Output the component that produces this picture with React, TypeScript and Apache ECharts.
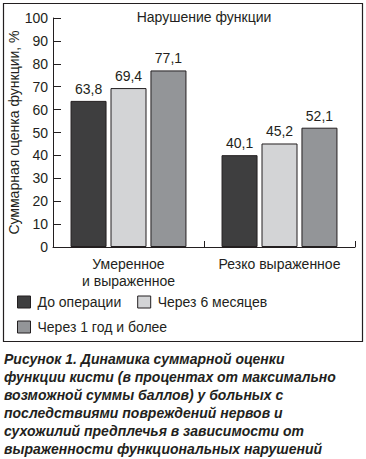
import React, { useEffect, useRef } from "react";
import * as echarts from "echarts";

const categories = ["Умеренное\nи выраженное", "Резко выраженное"];
const seriesNames = ["До операции", "Через 6 месяцев", "Через 1 год и более"];
const beforeOp = [63.8, 40.1];
const after6m = [69.4, 45.2];
const after1y = [77.1, 52.1];
const yTicks = { min: 0, max: 100, interval: 10 };
const chartTitle = "Нарушение функции";
const yAxisName = "Суммарная оценка функции, %";
const caption =
  "Рисунок 1. Динамика суммарной оценки\nфункции кисти (в процентах от максимально\nвозможной суммы баллов) у больных с\nпоследствиями повреждений нервов и\nсухожилий предплечья в зависимости от\nвыраженности функциональных нарушений";

const INK = "#231f20";
const FONT = "'Liberation Sans', Arial, sans-serif";
const colors = ["#3e3e3f", "#d3d4d6", "#939598"];

export default function App() {
  const ref = useRef<HTMLDivElement>(null);
  useEffect(() => {
    document.body.style.margin = "0";
    if (!ref.current) return;
    const chart = echarts.init(ref.current, null, { renderer: "svg" });
    const values = [beforeOp, after6m, after1y];
    const mkSeries = (i: number) => ({
      type: "bar",
      name: seriesNames[i],
      data: values[i],
      barWidth: 36,
      barGap: "11%",
      itemStyle: { color: colors[i], borderColor: INK, borderWidth: 1 },
      label: {
        show: true,
        position: "top",
        distance: 5,
        color: INK,
        fontSize: 14,
        fontFamily: FONT,
        formatter: (p: any) => String(p.value).replace(".", ","),
      },
    });
    chart.setOption({
      animation: false,
      textStyle: { fontFamily: FONT, color: INK },
      title: {
        text: chartTitle,
        left: 204,
        top: 10,
        padding: 0,
        textAlign: "center",
        textStyle: { fontSize: 14, fontWeight: "normal", color: INK, fontFamily: FONT },
      },
      grid: { left: 53, right: 11, top: 18, bottom: 212, containLabel: false, outerBoundsMode: "none" },
      legend: [
        {
          data: [seriesNames[0], seriesNames[1]],
          left: 17,
          top: 295,
          padding: 0,
          itemWidth: 13,
          itemHeight: 12,
          itemGap: 16,
          icon: "rect",
          itemStyle: { borderColor: INK, borderWidth: 1 },
          textStyle: { fontSize: 14, color: INK, fontFamily: FONT, padding: [0, 0, 0, 2] },
        },
        {
          data: [seriesNames[2]],
          left: 17,
          top: 320,
          padding: 0,
          itemWidth: 13,
          itemHeight: 12,
          icon: "rect",
          itemStyle: { borderColor: INK, borderWidth: 1 },
          textStyle: { fontSize: 14, color: INK, fontFamily: FONT, padding: [0, 0, 0, 2] },
        },
      ],
      xAxis: {
        type: "category",
        data: categories,
        axisLine: { lineStyle: { color: INK, width: 1 } },
        axisTick: { show: true, inside: true, length: 6, lineStyle: { color: INK } },
        axisLabel: { color: INK, fontSize: 14, margin: 8, lineHeight: 17, fontFamily: FONT, interval: 0, hideOverlap: false },
      },
      yAxis: {
        type: "value",
        min: yTicks.min,
        max: yTicks.max,
        interval: yTicks.interval,
        name: yAxisName,
        nameLocation: "middle",
        nameGap: 32,
        nameMoveOverlap: false,
        nameTextStyle: { fontSize: 14, color: INK, fontFamily: FONT },
        axisLine: { show: true, lineStyle: { color: INK, width: 1 } },
        axisTick: { show: true, inside: true, length: 8, lineStyle: { color: INK } },
        axisLabel: { color: INK, fontSize: 14, margin: 5, fontFamily: FONT },
        splitLine: { show: false },
      },
      graphic: [
        {
          type: "rect",
          shape: { x: 3.5, y: 3.5, width: 359, height: 338 },
          style: { fill: "none", stroke: INK, lineWidth: 1.2 },
          silent: true,
        },
        {
          type: "text",
          left: 4,
          top: 350,
          style: {
            text: caption,
            fill: INK,
            font: `italic bold 14px ${FONT}`,
            lineHeight: 18,
          },
        },
      ],
      series: [mkSeries(0), mkSeries(1), mkSeries(2)],
    });
    return () => chart.dispose();
  }, []);
  return <div ref={ref} style={{ width: 366, height: 459 }} />;
}
